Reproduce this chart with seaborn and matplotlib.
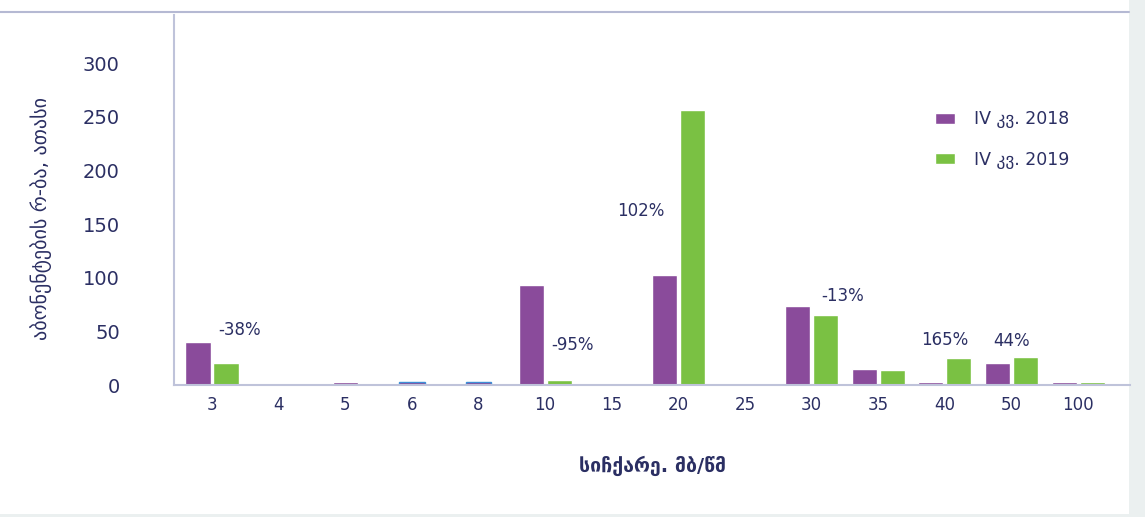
import pandas as pd
import matplotlib.pyplot as plt
import seaborn as sns
from matplotlib.lines import Line2D
from matplotlib.patches import Patch

# Datos (miles de abonados por velocidad)
velocidades = ['3', '4', '5', '6', '8', '10', '15', '20', '25', '30', '35', '40', '50', '100']
series = ['IV კვ. 2018', 'IV კვ. 2019']
valores_2018 = [40, 0, 0, 0, 0, 93, 0, 103, 0, 74, 15.5, 3, 20.5, 2.5]
valores_2019 = [21, 0, 0, 0, 0, 4.5, 0, 256, 0, 65, 14, 25.5, 26, 2.5]
# barras únicas (no agrupadas) en 5, 6 y 8
valores_unicos = [0, 0, 2.5, 2.5, 2.5, 0, 0, 0, 0, 0, 0, 0, 0, 0]
etiquetas_pct = ['-38%', '-95%', '102%', '-13%', '165%', '44%']

# posiciones de las etiquetas (índice de categoría, valor)
pos_pct = [(0.42, 51), (5.41, 37), (6.43, 162), (9.47, 83), (11.0, 42), (12.0, 41)]

MORADO = '#8A4B9B'
VERDE = '#7AC143'
AZUL_TXT = '#2B2F63'
EJE = '#BFC3DA'

sns.set_theme(style='white')
plt.rcParams['font.family'] = ['DejaVu Sans']

df = pd.DataFrame({
    'velocidad': velocidades * 2,
    'periodo': [series[0]] * len(velocidades) + [series[1]] * len(velocidades),
    'valor': valores_2018 + valores_2019,
})
df_unicos = pd.DataFrame({'velocidad': velocidades, 'valor': valores_unicos})

fig = plt.figure(figsize=(11.45, 5.17), dpi=100)
fig.patch.set_facecolor('#EBF0F0')
# fondo blanco principal
fig.add_artist(plt.Rectangle((0, 0.006), 0.986, 0.994, transform=fig.transFigure,
                             facecolor='white', edgecolor='none', zorder=-10))
# línea superior
fig.add_artist(Line2D([0, 0.986], [0.977, 0.977], transform=fig.transFigure,
                      color='#B5B9D3', lw=1.5))

ax = fig.add_axes([0.152, 0.255, 0.835, 0.716])
ax.set_facecolor('none')

sns.barplot(data=df, x='velocidad', y='valor', hue='periodo', order=velocidades,
            hue_order=series, palette=[MORADO, VERDE], width=0.84, gap=0.1,
            saturation=1, legend=False, ax=ax)
sns.barplot(data=df_unicos, x='velocidad', y='valor', order=velocidades,
            color=MORADO, width=0.38, saturation=1, ax=ax)

# borde azul en las barras pequeñas de 6 y 8
for p in ax.patches[-len(velocidades):]:
    cx = p.get_x() + p.get_width() / 2
    if round(cx) in (3, 4):
        p.set_edgecolor('#3D8FD6')
        p.set_linewidth(1)

ax.set_xlim(-0.57, 13.78)
ax.set_ylim(0, 345)
ax.set_yticks([0, 50, 100, 150, 200, 250, 300])

for s in ['top', 'right']:
    ax.spines[s].set_visible(False)
ax.spines['left'].set_color(EJE)
ax.spines['bottom'].set_color(EJE)
ax.spines['left'].set_linewidth(1.5)
ax.spines['bottom'].set_linewidth(1.5)

ax.tick_params(axis='y', length=0, pad=39, labelsize=14, labelcolor=AZUL_TXT)
ax.tick_params(axis='x', length=0, pad=8, labelsize=12, labelcolor=AZUL_TXT)

ax.set_xlabel('სიჩქარე. მბ/წმ', fontsize=14, fontweight='bold', color=AZUL_TXT, labelpad=30)
ax.set_ylabel('აბონენტების რ-ბა, ათასი', fontsize=14.5, color=AZUL_TXT)
ax.yaxis.set_label_coords(-0.128, 0.45)

for txt, (xi, yi) in zip(etiquetas_pct, pos_pct):
    ax.text(xi, yi, txt, ha='center', va='center', fontsize=12, color=AZUL_TXT)

handles = [Patch(facecolor=MORADO), Patch(facecolor=VERDE)]
ax.legend(handles, series, loc='upper left', bbox_to_anchor=(0.78, 0.785),
          frameon=False, fontsize=12.5, labelcolor=AZUL_TXT, handlelength=1.1,
          handleheight=0.6, labelspacing=1.3, handletextpad=1.1)

plt.savefig('out.png', dpi=100)
